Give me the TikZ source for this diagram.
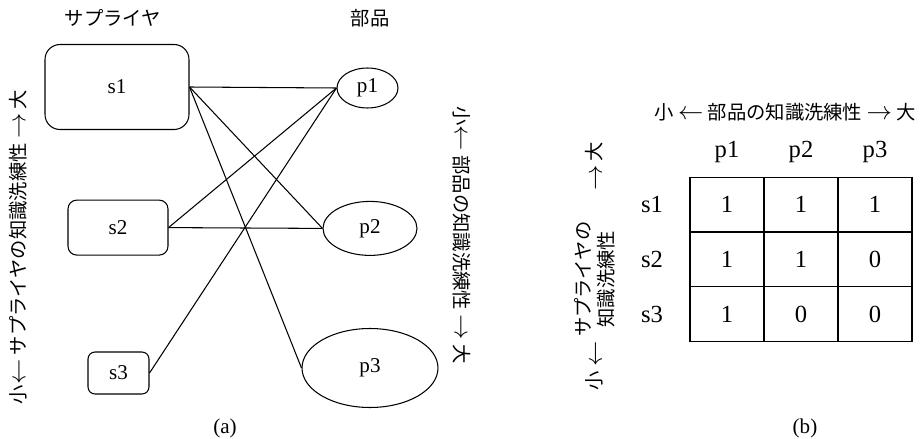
\documentclass[tikz,border=0pt]{standalone}
\usepackage{fontspec}
\setmainfont{Liberation Serif}
\newfontfamily\jp{Noto Sans CJK JP}
\usetikzlibrary{shapes.geometric}
\newcommand{\jla}{{\fontsize{14}{14}\selectfont$\leftarrow$}}
\newcommand{\jra}{{\fontsize{14}{14}\selectfont$\rightarrow$}}

\begin{document}
\begin{tikzpicture}[x=0.02cm, y=-0.02cm, line width=0.6pt,
  jptext/.style={font=\jp\fontsize{11}{13}\selectfont},
  supbox/.style={draw, font=\fontsize{12}{14}\selectfont},
  partell/.style={draw, ellipse, inner sep=0pt, font=\fontsize{12}{14}\selectfont},
  cell/.style={draw, minimum width=1.48cm, minimum height=1.093cm, font=\fontsize{14}{16}\selectfont},
  hdr/.style={font=\fontsize{14}{16}\selectfont},
  sublab/.style={font=\fontsize{12}{14}\selectfont}]
  \useasboundingbox (0,0) rectangle (920,439);
  % (a) Titel
  \node[jptext] (suptitle) at (113,18) {サプライヤ};
  \node[jptext] (parttitle) at (370,18) {部品};
  % Lieferanten
  \node[supbox, rounded corners=8.5pt, minimum width=2.88cm, minimum height=1.7cm] (s1) at (117,87) {s1};
  \node[supbox, rounded corners=5pt, minimum width=2cm, minimum height=1.1cm] (s2) at (118,227.6) {s2};
  \node[supbox, rounded corners=4pt, minimum width=1.22cm, minimum height=0.84cm] (s3) at (118.5,373) {s3};
  % Teile
  \node[partell, minimum width=1.22cm, minimum height=0.8cm] (p1) at (367.5,88) {p1};
  \node[partell, minimum width=1.88cm, minimum height=1.08cm] (p2) at (370,228.4) {p2};
  \node[partell, minimum width=2.72cm, minimum height=1.58cm] (p3) at (370,368) {p3};
  % Kanten
  \draw (s1.east) -- (p1.west);
  \draw (s1.east) -- (p2.west);
  \draw (s1.east) -- (p3.west);
  \draw (s2.east) -- (p1.west);
  \draw (s2.east) -- (p2.west);
  \draw (s3.east) -- (p1.west);
  % Achsen (a)
  \node[jptext, rotate=90] (supaxis) at (18,247) {小\jla\ サプライヤの知識洗練性 \jra\ 大};
  \node[jptext, rotate=-90] (partaxis) at (462,235) {小\jla\ 部品の知識洗練性 \jra\ 大};
  \node[sublab] (suba) at (225,428) {(a)};
  % (b) Matrix
  \node[jptext] (colaxis) at (785,112) {小 \jla\ 部品の知識洗練性 \jra\ 大};
  \node[jptext, rotate=90] (rowaxis) at (597,266) {小 \jla\ \begin{tabular}{@{}c@{}}サプライヤの\\知識洗練性\end{tabular}\hspace{1.6em}\jra\ 大};
  \foreach \c in {1,2,3}
    \node[hdr] (h\c) at (653+74*\c,152) {p\c};
  \foreach \r/\vals in {1/{1,1,1},2/{1,1,0},3/{1,0,0}} {
    \node[hdr] (r\r) at (652,150+54.67*\r) {s\r};
    \foreach \v [count=\c] in \vals
      \node[cell] (c\r\c) at (653+74*\c,150+54.67*\r) {\v};
  }
  \node[sublab] (subb) at (805,428) {(b)};
\end{tikzpicture}
\end{document}
